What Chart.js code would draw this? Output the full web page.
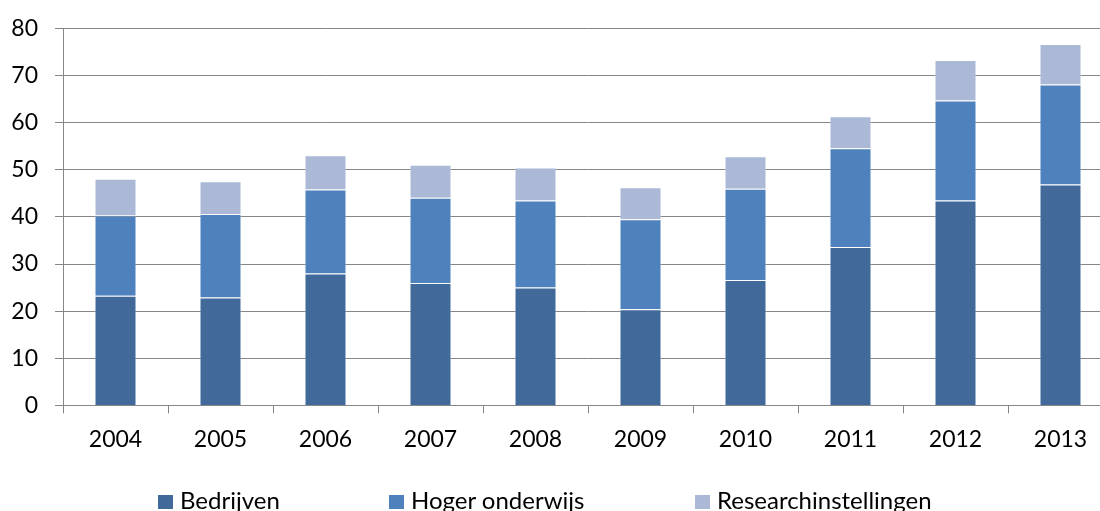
<!DOCTYPE html>
<html>
<head>
<meta charset="utf-8">
<script src="https://cdn.jsdelivr.net/npm/chart.js@4"></script>
<style>
  html, body { margin: 0; padding: 0; background: #fff; overflow: hidden; }
  #wrap { position: relative; width: 1100px; height: 511px; overflow: hidden; }
  #legend {
    position: absolute; left: 158px; top: 486px; width: 940px;
    display: flex; justify-content: flex-start;
    font-family: Lato, sans-serif; font-size: 24px; line-height: 1.2; color: #000;
  }
  #legend span.item { display: flex; align-items: flex-start; white-space: nowrap; }
  #legend span.item:nth-child(1) { width: 231px; }
  #legend span.item:nth-child(2) { width: 306px; }
  #legend span.box { width: 15px; height: 14px; margin: 9px 7px 0 0; display: inline-block; }
</style>
</head>
<body>
<div id="wrap">
  <canvas id="myChart" width="1113" height="511"></canvas>
  <div id="legend"></div>
</div>
<script>
var years = ['2004', '2005', '2006', '2007', '2008', '2009', '2010', '2011', '2012', '2013'];
var seriesNames = ['Bedrijven', 'Hoger onderwijs', 'Researchinstellingen'];
var bedrijven = [23.3, 22.9, 28.0, 26.0, 25.0, 20.4, 26.6, 33.6, 43.5, 46.9];
var hogerOnderwijs = [17.0, 17.7, 17.8, 18.1, 18.5, 19.1, 19.4, 21.0, 21.2, 21.2];
var research = [7.8, 7.0, 7.3, 7.0, 7.0, 6.8, 6.9, 6.8, 8.6, 8.6];
var colors = ['#416A9B', '#4F81BD', '#ABB9D7'];
var yTicks = [0, 10, 20, 30, 40, 50, 60, 70, 80];

var gridColor = '#868686';
var font = { family: 'Lato, sans-serif', size: 23 };

var ctx = document.getElementById('myChart').getContext('2d');
var myChart = new Chart(ctx, {
    type: 'bar',
    data: {
        labels: years,
        datasets: [bedrijven, hogerOnderwijs, research].map(function (d, i) {
            return {
                label: seriesNames[i],
                data: d,
                backgroundColor: colors[i],
                borderColor: 'rgba(255,255,255,0.3)',
                borderWidth: 1,
                barPercentage: 1,
                categoryPercentage: 0.4
            };
        })
    },
    options: {
        responsive: false,
        animation: false,
        layout: { padding: { top: 0, right: 0, bottom: 46, left: 0 } },
        plugins: {
            legend: { display: false },
            tooltip: { enabled: false }
        },
        scales: {
            x: {
                stacked: true,
                grid: { drawOnChartArea: false, color: gridColor, tickLength: 8, lineWidth: 1 },
                border: { color: gridColor, width: 1 },
                ticks: { color: '#000', font: font, padding: 12, maxRotation: 0 }
            },
            y: {
                stacked: true,
                min: 0,
                max: 80,
                afterBuildTicks: function (s) { s.ticks = yTicks.map(function (v) { return { value: v }; }); },
                afterFit: function (s) { s.width = 63; },
                grid: { color: gridColor, tickLength: 8, lineWidth: 1 },
                border: { color: gridColor, width: 1 },
                ticks: { color: '#000', font: { family: 'Lato, sans-serif', size: 23, lineHeight: 1 }, padding: 17 }
            }
        }
    }
});

var legend = document.getElementById('legend');
seriesNames.forEach(function (name, i) {
    var item = document.createElement('span');
    item.className = 'item';
    var box = document.createElement('span');
    box.className = 'box';
    box.style.background = colors[i];
    item.appendChild(box);
    item.appendChild(document.createTextNode(name));
    legend.appendChild(item);
});
</script>
</body>
</html>
